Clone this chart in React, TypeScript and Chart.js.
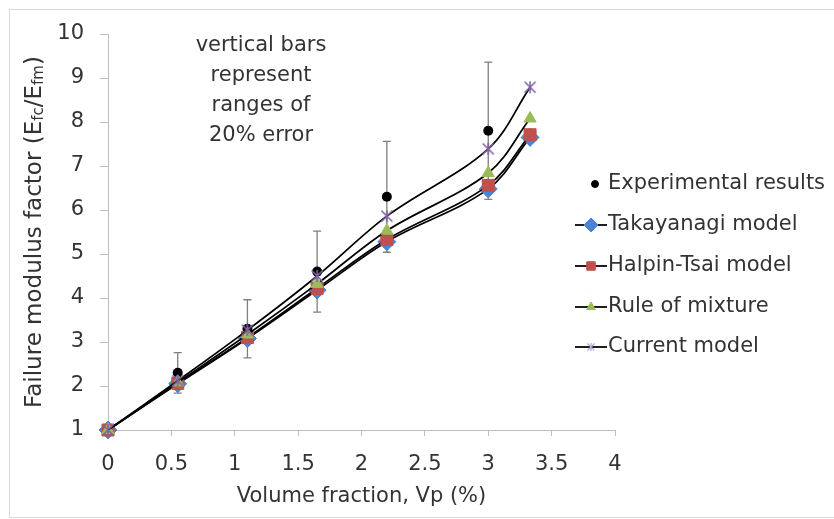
import React, { useEffect, useRef } from 'react';
import { Chart, registerables } from 'chart.js';
import { drawPoint } from 'chart.js/helpers';

Chart.register(...registerables);

// Volume fraction (%) at which the models were evaluated
const volumeFraction = [0, 0.55, 1.1, 1.65, 2.2, 3.0, 3.33];
// Measured failure modulus factor
const experimentalX = [0.55, 1.1, 1.65, 2.2, 3.0];
const experimental = [2.3, 3.3, 4.6, 6.3, 7.8];
const errorFraction = 0.2;
// Model predictions
const takayanagi = [1, 2.05, 3.08, 4.18, 5.28, 6.48, 7.65];
const halpinTsai = [1, 2.06, 3.1, 4.22, 5.33, 6.56, 7.71];
const ruleOfMixture = [1, 2.08, 3.17, 4.32, 5.53, 6.84, 8.08];
const currentModel = [1, 2.12, 3.27, 4.5, 5.86, 7.39, 8.79];

const seriesNames = ['Experimental results', 'Takayanagi model', 'Halpin-Tsai model', 'Rule of mixture', 'Current model'];
const noteLines = ['vertical bars', 'represent', 'ranges of', '20% error'];
const xTitle = 'Volume fraction, Vp (%)';

const FONT = '"DejaVu Sans"';
const TEXT = '#333333';
const AXIS = '#bfbfbf';
const BLUE = '#4A86CF';
const RED = '#C0504D';
const GREEN = '#9BBB59';
const PURPLE = '#8064A2';

function starMarker(size: number, color: string, lw: number): HTMLCanvasElement {
  const c = document.createElement('canvas');
  c.width = size;
  c.height = size;
  const g = c.getContext('2d')!;
  g.strokeStyle = color;
  g.lineWidth = lw;
  const m = 1.5;
  g.beginPath();
  g.moveTo(m, m);
  g.lineTo(size - m, size - m);
  g.moveTo(size - m, m);
  g.lineTo(m, size - m);
  g.moveTo(size / 2, m - 0.5);
  g.lineTo(size / 2, size - m + 0.5);
  g.stroke();
  return c;
}

const pts = (ys: number[]) => volumeFraction.map((x, i) => ({ x, y: ys[i] }));

const errorBars = {
  id: 'errorBars',
  beforeDatasetsDraw(chart: any) {
    const { ctx, scales } = chart;
    ctx.save();
    ctx.strokeStyle = '#7f7f7f';
    ctx.lineWidth = 1.3;
    experimentalX.forEach((xv, i) => {
      const v = experimental[i];
      const x = scales.x.getPixelForValue(xv);
      const yTop = scales.y.getPixelForValue(v * (1 + errorFraction));
      const yBot = scales.y.getPixelForValue(v * (1 - errorFraction));
      ctx.beginPath();
      ctx.moveTo(x, yTop);
      ctx.lineTo(x, yBot);
      ctx.moveTo(x - 4, yTop);
      ctx.lineTo(x + 4, yTop);
      ctx.moveTo(x - 4, yBot);
      ctx.lineTo(x + 4, yBot);
      ctx.stroke();
    });
    ctx.restore();
  },
};

const decorations = {
  id: 'decorations',
  afterDraw(chart: any) {
    const { ctx, chartArea } = chart;
    ctx.save();
    // outer frame
    ctx.strokeStyle = '#d9d9d9';
    ctx.lineWidth = 1;
    ctx.strokeRect(9.5, 9.5, 900, 508);

    ctx.fillStyle = TEXT;
    ctx.font = `21px ${FONT}`;
    ctx.textAlign = 'center';
    ctx.textBaseline = 'middle';
    // note
    noteLines.forEach((t, i) => ctx.fillText(t, 261, 46 + i * 30));
    // x title
    ctx.fillText(xTitle, (chartArea.left + chartArea.right) / 2, 497);

    // y title with subscripts
    const parts: [string, boolean][] = [
      ['Failure modulus factor (E', false],
      ['fc', true],
      ['/E', false],
      ['fm', true],
      [')', false],
    ];
    const big = `23px ${FONT}`;
    const small = `15px ${FONT}`;
    let total = 0;
    parts.forEach(([t, s]) => {
      ctx.font = s ? small : big;
      total += ctx.measureText(t).width;
    });
    ctx.translate(35, (chartArea.top + chartArea.bottom) / 2);
    ctx.rotate(-Math.PI / 2);
    ctx.textAlign = 'left';
    ctx.textBaseline = 'middle';
    let cx = -total / 2;
    parts.forEach(([t, s]) => {
      ctx.font = s ? small : big;
      ctx.fillText(t, cx, s ? 4 : 0);
      cx += ctx.measureText(t).width;
    });
    ctx.restore();

    // legend
    ctx.save();
    const rows = [184, 225, 266, 307, 347];
    const styles: any[] = [
      { pointStyle: 'circle', radius: 3.5, bg: '#000', x: 595 },
      { pointStyle: 'rectRot', radius: 7, bg: BLUE, x: 591 },
      { pointStyle: 'rect', radius: 6, bg: RED, x: 591 },
      { pointStyle: 'triangle', radius: 5, bg: GREEN, x: 591 },
      { pointStyle: starMarker(10, '#b9a6d6', 1.2), radius: 5, bg: PURPLE, x: 591 },
    ];
    rows.forEach((y, i) => {
      if (i > 0) {
        ctx.strokeStyle = '#000';
        ctx.lineWidth = 1.75;
        ctx.beginPath();
        ctx.moveTo(575, y);
        ctx.lineTo(607, y);
        ctx.stroke();
      }
      const s = styles[i];
      ctx.fillStyle = s.bg;
      ctx.strokeStyle = s.bg;
      ctx.lineWidth = 1;
      drawPoint(ctx, { pointStyle: s.pointStyle, radius: s.radius, borderWidth: 1, rotation: 0 }, s.x, y);
      ctx.fillStyle = TEXT;
      ctx.font = `21px ${FONT}`;
      ctx.textAlign = 'left';
      ctx.textBaseline = 'middle';
      ctx.fillText(seriesNames[i], 608, y);
    });
    ctx.restore();
  },
};

export default function App() {
  const ref = useRef<HTMLCanvasElement | null>(null);

  useEffect(() => {
    if (!ref.current) return;
    const star = starMarker(14, PURPLE, 1.6);
    const line = {
      showLine: true,
      borderColor: '#000',
      borderWidth: 1.75,
      tension: 0.35,
      pointBorderWidth: 1,
      clip: false,
    };
    const chart = new Chart(ref.current, {
      type: 'scatter',
      data: {
        datasets: [
          {
            label: seriesNames[0],
            data: experimentalX.map((x, i) => ({ x, y: experimental[i] })),
            pointStyle: 'circle',
            pointRadius: 5,
            pointBackgroundColor: '#000',
            pointBorderColor: '#000',
            pointBorderWidth: 0,
            showLine: false,
            clip: false,
            order: 4,
          },
          {
            ...line,
            label: seriesNames[1],
            data: pts(takayanagi),
            pointStyle: 'rectRot',
            pointRadius: 9,
            pointBackgroundColor: BLUE,
            pointBorderColor: BLUE,
            order: 3,
          },
          {
            ...line,
            label: seriesNames[2],
            data: pts(halpinTsai),
            pointStyle: 'rect',
            pointRadius: 8.5,
            pointBackgroundColor: RED,
            pointBorderColor: RED,
            order: 2,
          },
          {
            ...line,
            label: seriesNames[3],
            data: pts(ruleOfMixture),
            pointStyle: 'triangle',
            pointRadius: 7,
            pointBackgroundColor: GREEN,
            pointBorderColor: GREEN,
            order: 1,
          },
          {
            ...line,
            label: seriesNames[4],
            data: pts(currentModel),
            pointStyle: star as any,
            pointRadius: 7,
            pointBackgroundColor: PURPLE,
            pointBorderColor: PURPLE,
            order: 0,
          },
        ] as any,
      },
      options: {
        animation: false,
        responsive: true,
        maintainAspectRatio: false,
        events: [],
        layout: { padding: { top: 34, right: 219, left: 0, bottom: 0 } },
        plugins: {
          legend: { display: false },
          tooltip: { enabled: false },
          title: { display: false },
        },
        scales: {
          x: {
            type: 'linear',
            min: 0,
            max: 4,
            afterFit: (s: any) => {
              s.height = 89;
            },
            border: { color: AXIS, width: 1 },
            grid: { drawOnChartArea: false, color: AXIS, tickLength: 6 },
            ticks: {
              stepSize: 0.5,
              color: TEXT,
              font: { family: FONT, size: 21 },
              padding: 16,
              maxRotation: 0,
              callback: (v: any) => String(Math.round(Number(v) * 100) / 100),
            },
          },
          y: {
            type: 'linear',
            min: 1,
            max: 10,
            afterFit: (s: any) => {
              s.width = 108;
            },
            border: { color: AXIS, width: 1 },
            grid: { drawOnChartArea: false, color: AXIS, tickLength: 8 },
            ticks: { stepSize: 1, color: TEXT, font: { family: FONT, size: 21 }, padding: 16 },
          },
        },
      },
      plugins: [errorBars, decorations],
    });
    return () => chart.destroy();
  }, []);

  return (
    <div style={{ position: 'absolute', left: 0, top: 0, width: 834, height: 519, background: '#fff' }}>
      <canvas ref={ref} />
    </div>
  );
}
